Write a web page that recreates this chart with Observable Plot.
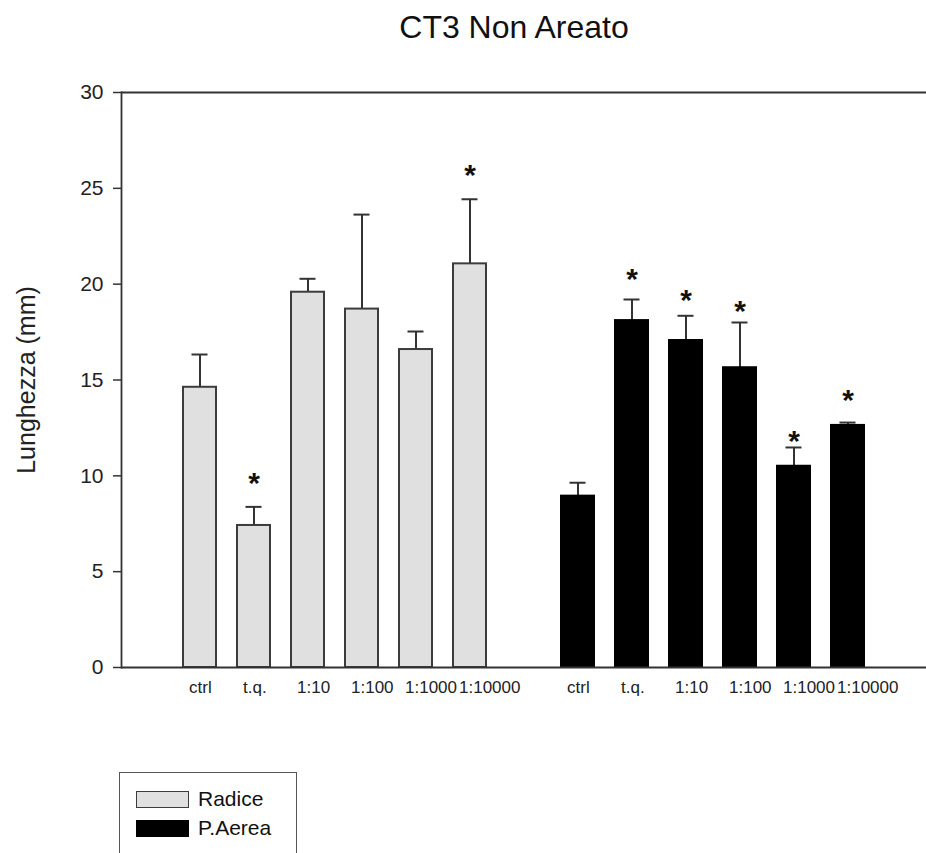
<!DOCTYPE html>
<html>
<head>
<meta charset="utf-8">
<script src="https://cdn.jsdelivr.net/npm/d3@7"></script>
<script src="https://cdn.jsdelivr.net/npm/@observablehq/plot@0.6"></script>
<style>
  body { margin: 0; background: #fff; font-family: "Liberation Sans", Arial, sans-serif; }
  #wrap { position: relative; width: 926px; height: 853px; overflow: hidden; }
  #title { position: absolute; left: 264px; width: 500px; top: 9px; text-align: center;
           font-size: 32px; line-height: 36px; color: #111; }
  #chart { position: absolute; left: 0; top: 0; }
  #legend { position: absolute; left: 119px; top: 772px; width: 178px; height: 120px;
            border: 1.5px solid #555; box-sizing: border-box; }
  .sw { position: absolute; left: 16px; width: 53px; height: 17px; box-sizing: border-box; }
  .lt { position: absolute; left: 78px; font-size: 21px; line-height: 24px; color: #111; }
</style>
</head>
<body>
<div id="wrap">
  <div id="title">CT3 Non Areato</div>
  <div id="chart"></div>
  <div id="legend"></div>
</div>
<script>
// ---- data ----
const groups = ["Radice", "P.Aerea"];
const treatments = ["ctrl", "t.q.", "1:10", "1:100", "1:1000", "1:10000"];
const radice     = [14.62, 7.41, 19.58, 18.70, 16.59, 21.06];
const radiceErr  = [1.71, 0.97, 0.70, 4.93, 0.94, 3.37];
const radiceStar = [null, 10.0, null, null, null, 26.1];
const aerea      = [8.94, 18.10, 17.06, 15.64, 10.50, 12.63];
const aereaErr   = [0.70, 1.10, 1.29, 2.36, 0.98, 0.15];
const aereaStar  = [null, 20.67, 19.55, 19.0, 12.19, 14.33];
const yTicks = [0, 5, 10, 15, 20, 25, 30];
const groupFill = ["#e0e0e0", "#000000"];
const groupStroke = ["#3c3c3c", "#000000"];

// ---- build table ----
const rows = [];
treatments.forEach((t, i) => rows.push({group: groups[0], key: "R" + i, label: t, value: radice[i], err: radiceErr[i], star: radiceStar[i]}));
treatments.forEach((t, i) => rows.push({group: groups[1], key: "A" + i, label: t, value: aerea[i], err: aereaErr[i], star: aereaStar[i]}));
const domain = [...rows.filter(d => d.group === groups[0]).map(d => d.key), "gap",
                ...rows.filter(d => d.group === groups[1]).map(d => d.key)];
const labelOf = new Map(rows.map(d => [d.key, d.label]));
const rowsR = rows.filter(d => d.group === groups[0]);
const rowsA = rows.filter(d => d.group === groups[1]);

const chart = Plot.plot({
  width: 926,
  height: 720,
  marginTop: 92,
  marginBottom: 53,
  marginLeft: 121,
  marginRight: 0,
  style: {fontFamily: "'Liberation Sans', Arial, sans-serif", color: "#222", background: "transparent", overflow: "visible"},
  x: {type: "band", domain, range: [158.4, 889], padding: 0.395, align: 0.5},
  y: {domain: [0, 30]},
  marks: [
    Plot.ruleX(rows, {x: "key", y1: "value", y2: d => d.value + d.err, stroke: "#333", strokeWidth: 2}),
    Plot.tickY(rows, {x: "key", y: d => d.value + d.err, stroke: "#333", strokeWidth: 2, insetLeft: 8.5, insetRight: 8.5}),
    Plot.barY(rowsR, {x: "key", y: "value", fill: groupFill[0], stroke: groupStroke[0], strokeWidth: 2}),
    Plot.barY(rowsA, {x: "key", y: "value", fill: groupFill[1], stroke: groupStroke[1], strokeWidth: 2}),
    Plot.text(rows.filter(d => d.star != null), {x: "key", y: "star", text: () => "*", fontSize: 30, fontWeight: "bold", fill: "#111", dy: 8}),
    Plot.ruleY([0, 30], {stroke: "#333", strokeWidth: 1.8}),
    Plot.frame({anchor: "left", stroke: "#333", strokeWidth: 1.8}),
    Plot.axisY({ticks: yTicks, tickSize: 8, tickPadding: 10, fontSize: 21, label: null, stroke: "#333", strokeWidth: 1.5}),
    Plot.axisY({ticks: [], tickSize: 0, label: "Lunghezza (mm)", labelAnchor: "center", labelArrow: "none", labelOffset: 104, fontSize: 25}),
    Plot.axisX({tickSize: 0, tickPadding: 13, fontSize: 17, tickFormat: k => labelOf.get(k) ?? "", textAnchor: "start", dx: -11, label: null})
  ]
});
document.getElementById("chart").appendChild(chart);

// ---- legend ----
const legend = document.getElementById("legend");
groups.forEach((g, i) => {
  const sw = document.createElement("div");
  sw.className = "sw";
  sw.style.top = (i === 0 ? 18 : 47) + "px";
  sw.style.background = groupFill[i];
  sw.style.border = "1.5px solid " + groupStroke[i];
  legend.appendChild(sw);
  const t = document.createElement("div");
  t.className = "lt";
  t.style.top = (i === 0 ? 14 : 43) + "px";
  t.textContent = g;
  legend.appendChild(t);
});
</script>
</body>
</html>
